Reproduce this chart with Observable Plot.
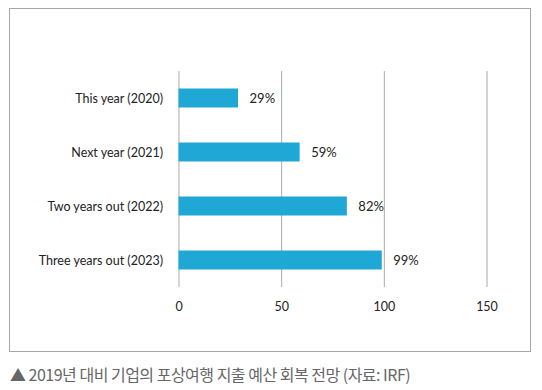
<!DOCTYPE html>
<html>
<head>
<meta charset="utf-8">
<script src="https://cdn.jsdelivr.net/npm/d3@7"></script>
<script src="https://cdn.jsdelivr.net/npm/@observablehq/plot@0.6"></script>
<style>
  html, body { margin: 0; padding: 0; background: #fff; }
  #wrap { position: relative; width: 542px; height: 390px; }
  #frame { position: absolute; left: 9px; top: 8px; width: 520px; height: 342px; border: 1px solid #aaa; }
  #chart { position: absolute; left: 0; top: 0; }
  #caption { position: absolute; left: 10px; top: 363px; font-family: "Noto Sans CJK KR", sans-serif; font-size: 16px; line-height: 22px; color: #666; white-space: nowrap; letter-spacing: -0.5px; }
</style>
</head>
<body>
<div id="wrap">
  <div id="frame"></div>
  <div id="chart"></div>
  <div id="caption">▲ 2019년 대비 기업의 포상여행 지출 예산 회복 전망 (자료: IRF)</div>
</div>
<script>
const categories = ["This year (2020)", "Next year (2021)", "Two years out (2022)", "Three years out (2023)"];
const values = [29, 59, 82, 99];
const xTicks = [0, 50, 100, 150];

const data = categories.map((c, i) => ({category: c, value: values[i]}));

const chart = Plot.plot({
  width: 542,
  height: 351,
  marginLeft: 178.5,
  marginRight: 55.5,
  marginTop: 71,
  marginBottom: 64,
  style: {fontFamily: "Lato, sans-serif", fontSize: "13px", color: "#222", background: "transparent"},
  x: {domain: [0, 150], ticks: xTicks, label: null},
  y: {domain: categories, padding: 0, label: null},
  marks: [
    Plot.ruleX(xTicks, {stroke: "#aaa", strokeWidth: 1, strokeOpacity: 1}),
    Plot.barX(data, {x: "value", y: "category", fill: "#1fa8d6", insetTop: 17.5, insetBottom: 17.5}),
    Plot.text(data, {x: "value", y: "category", text: d => d.value + "%", dx: 11, textAnchor: "start", fill: "#222", fontSize: 13}),
    Plot.axisY({tickSize: 0, tickPadding: 16, fontSize: 12.5, fill: "#222"}),
    Plot.axisX(xTicks, {tickSize: 0, tickPadding: 15, fontSize: 12.5, fill: "#222"})
  ]
});
document.getElementById("chart").appendChild(chart);
</script>
</body>
</html>
